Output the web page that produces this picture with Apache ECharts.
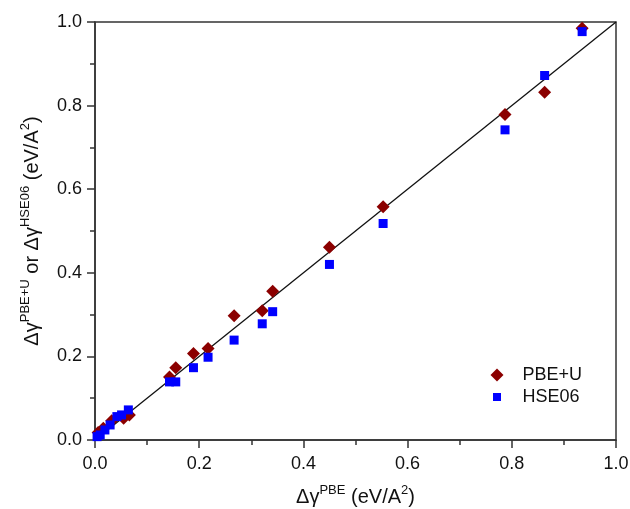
<!DOCTYPE html>
<html lang="en">

	<head>
		<meta charset="UTF-8" />
		<title>PBE+U / HSE06 vs PBE</title>
		<script src="https://cdn.jsdelivr.net/npm/echarts@6/dist/echarts.min.js"></script>
		<style>
			html, body { margin: 0; padding: 0; background: #fff; }
			#echarts { width: 630px; height: 509px; }
		</style>
	</head>

	<body>
		<div id="echarts"></div>
	</body>

	<script type="text/javascript">
		// x = Δγ PBE, y = Δγ from the other method
		var pbeuX = [0.935, 0.863, 0.787, 0.553, 0.450, 0.341, 0.321, 0.267, 0.217, 0.189, 0.155, 0.143, 0.066, 0.055, 0.032, 0.016, 0.006];
		var pbeuY = [0.985, 0.832, 0.779, 0.558, 0.461, 0.356, 0.309, 0.297, 0.219, 0.207, 0.173, 0.151, 0.060, 0.052, 0.046, 0.028, 0.018];
		var hseX = [0.935, 0.863, 0.787, 0.553, 0.450, 0.341, 0.321, 0.267, 0.217, 0.189, 0.155, 0.143, 0.064, 0.051, 0.042, 0.029, 0.019, 0.010, 0.004];
		var hseY = [0.977, 0.872, 0.742, 0.518, 0.420, 0.307, 0.278, 0.239, 0.198, 0.173, 0.139, 0.139, 0.072, 0.060, 0.056, 0.036, 0.024, 0.012, 0.008];
		var diagLine = [[0, 0], [1, 1]];
		var seriesNames = ['PBE+U', 'HSE06'];

		function pairs(xs, ys) {
			var out = [];
			for(var i = 0; i < xs.length; i++) {
				out.push([xs[i], ys[i]]);
			}
			return out;
		}

		var font = 'Liberation Sans, Arial, sans-serif';
		var axisColor = '#333';
		var supStyle = { fontSize: 13, fontFamily: font, color: '#111', verticalAlign: 'top', lineHeight: 26 };
		var baseStyle = { fontSize: 20, fontFamily: font, color: '#111', verticalAlign: 'middle', lineHeight: 26 };

		var dom = document.getElementById("echarts");
		var myChart = echarts.init(dom);
		var option = {
			animation: false,
			grid: {
				left: 95,
				right: 14,
				top: 22,
				bottom: 69,
				outerBoundsMode: 'none',
				show: true,
				borderColor: axisColor,
				borderWidth: 1.5,
				backgroundColor: 'transparent'
			},
			legend: {
				// white border trims the square icon so it reads smaller than the diamond
				data: [{ name: seriesNames[0] }, { name: seriesNames[1], itemStyle: { borderColor: '#fff', borderWidth: 5 } }],
				orient: 'vertical',
				left: 483,
				top: 361,
				itemWidth: 13,
				itemHeight: 13,
				itemGap: 4,
				symbolKeepAspect: true,
				textStyle: { fontSize: 18, fontFamily: font, color: '#111', padding: [0, 0, 0, 14] }
			},
			xAxis: {
				type: 'value',
				min: 0,
				max: 1,
				interval: 0.2,
				splitLine: { show: false },
				axisLine: { onZero: false, lineStyle: { color: axisColor, width: 1.5 } },
				axisTick: { length: 8, lineStyle: { color: axisColor, width: 1.5 } },
				minorTick: { show: true, splitNumber: 2, length: 5, lineStyle: { color: axisColor, width: 1.5 } },
				axisLabel: {
					margin: 15,
					fontSize: 18,
					fontFamily: font,
					color: '#111',
					formatter: function(v) { return v.toFixed(1); }
				},
				name: '{b|Δγ}{s|PBE}{b| (eV/A}{s|2}{b|)}',
				nameLocation: 'middle',
				nameGap: 44,
				nameTextStyle: { rich: { b: baseStyle, s: supStyle } }
			},
			yAxis: {
				type: 'value',
				min: 0,
				max: 1,
				interval: 0.2,
				splitLine: { show: false },
				axisLine: { onZero: false, lineStyle: { color: axisColor, width: 1.5 } },
				axisTick: { length: 8, lineStyle: { color: axisColor, width: 1.5 } },
				minorTick: { show: true, splitNumber: 2, length: 5, lineStyle: { color: axisColor, width: 1.5 } },
				axisLabel: {
					margin: 13,
					fontSize: 18,
					fontFamily: font,
					color: '#111',
					formatter: function(v) { return v.toFixed(1); }
				},
				name: '{b|Δγ}{s|PBE+U}{b| or Δγ}{s|HSE06}{b| (eV/A}{s|2}{b|)}',
				nameLocation: 'middle',
				nameGap: 50,
				nameTextStyle: { rich: { b: baseStyle, s: supStyle } }
			},
			series: [{
				name: 'diag',
				type: 'line',
				data: diagLine,
				symbol: 'none',
				silent: true,
				z: 1,
				lineStyle: { color: '#111', width: 1.3 }
			}, {
				name: seriesNames[0],
				type: 'scatter',
				symbol: 'diamond',
				symbolSize: 13,
				symbolKeepAspect: true,
				data: pairs(pbeuX, pbeuY),
				z: 2,
				itemStyle: { color: '#8b0000', opacity: 1 }
			}, {
				name: seriesNames[1],
				type: 'scatter',
				symbol: 'rect',
				symbolSize: 9,
				symbolKeepAspect: true,
				data: pairs(hseX, hseY),
				z: 3,
				itemStyle: { color: '#0000ff', opacity: 1 }
			}]
		};
		myChart.setOption(option, true);
	</script>

</html>
